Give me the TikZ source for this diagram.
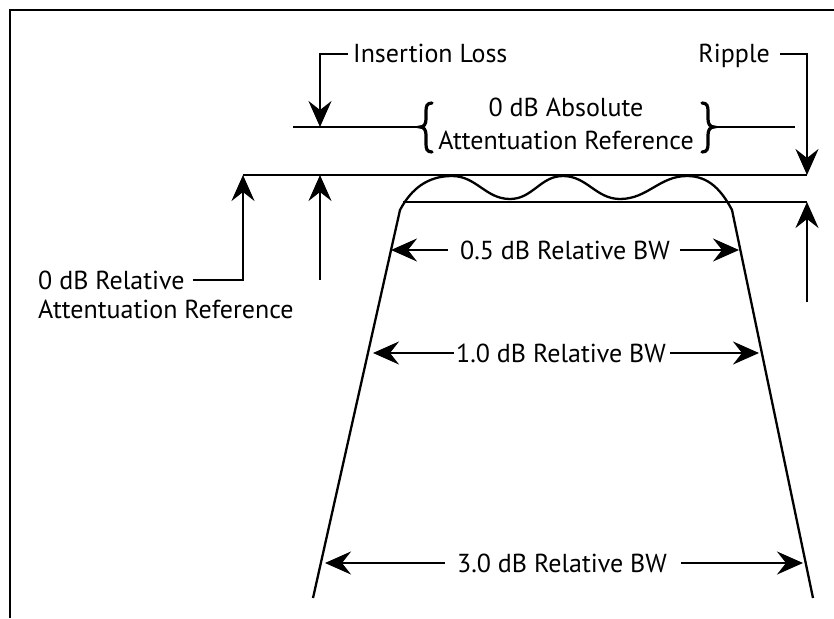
\documentclass[tikz,border=0pt]{standalone}
\usepackage{fontspec}
\setmainfont{PT Sans}
\usetikzlibrary{arrows.meta}
\begin{document}
\begin{tikzpicture}[x=1pt,y=-1pt,
  ln/.style={line width=2.3pt},
  arr/.style={ln,-{Stealth[length=26pt,width=23pt,inset=9pt]}},
  lbl/.style={font=\fontsize{26}{33}\selectfont,inner sep=0pt},
  brc/.style={line width=3.2pt,line cap=round}]
\useasboundingbox (0,0) rectangle (834,618);
% frame
\draw[ln] (10,618) -- (10,10) -- (834,10);
% reference levels
\coordinate (topL) at (243,175);
\coordinate (topR) at (807,175);
\coordinate (lowL) at (403,202);
\coordinate (lowR) at (807,202);
\draw[ln] (topL) -- (topR);
\draw[ln] (lowL) -- (lowR);
% filter response
\draw[ln,line join=round] (313,598) -- (400,210)
  to[out=62,in=180] (452,176) to[out=0,in=180] (510,199)
  to[out=0,in=180] (563,176) to[out=0,in=180] (620,199)
  to[out=0,in=180] (687,176) to[out=0,in=118] (732,210) -- (813,598);
% insertion loss
\node[lbl,anchor=base west] (il) at (353,63) {Insertion Loss};
\coordinate (ilT) at (320,127);
\draw[arr] ([xshift=-5pt]il.west) -| (ilT);
% absolute reference
\node[lbl,align=center] (abs) at (566,124) {0 dB Absolute\\Attentuation Reference};
\coordinate (lbTip) at (420,127);
\coordinate (rbTip) at (714,127);
\draw[brc] (432,103) .. controls (427,103) and (426,106) .. (426,111) -- (426,119)
  .. controls (426,124) and (424,127) .. (lbTip)
  .. controls (424,127) and (426,130) .. (426,135) -- (426,144)
  .. controls (426,149) and (427,152) .. (432,152);
\draw[brc] (702,103) .. controls (707,103) and (708,106) .. (708,111) -- (708,119)
  .. controls (708,124) and (710,127) .. (rbTip)
  .. controls (710,127) and (708,130) .. (708,135) -- (708,144)
  .. controls (708,149) and (707,152) .. (702,152);
\coordinate (absL) at (293,127);
\coordinate (absR) at (795,127);
\draw[ln] (absL) -- (lbTip);
\draw[ln] (rbTip) -- (absR);
% ripple
\node[lbl,anchor=base east] (rp) at (770,63) {Ripple};
\coordinate (rpT) at (807,175);
\draw[arr] ([xshift=10pt,yshift=9pt]rp.base east) -| (rpT);
\coordinate (rpB) at (807,302);
\draw[arr] (rpB) -- (lowR);
% relative reference
\node[lbl,anchor=base west] (rel1) at (38,289) {0 dB Relative};
\node[lbl,anchor=base west] (rel2) at (38,318) {Attentuation Reference};
\draw[arr] ([xshift=8pt]rel1.east) -| (topL);
\coordinate (ia) at (320,280);
\coordinate (iaT) at (320,175);
\draw[arr] (ia) -- (iaT);
% bandwidths
\node[lbl] (bw05) at (565,250) {0.5 dB Relative BW};
\coordinate (s05L) at (391,250);
\coordinate (s05R) at (739,250);
\draw[arr] ([xshift=-12pt]bw05.west) -- (s05L);
\draw[arr] ([xshift=10pt]bw05.east) -- (s05R);
\node[lbl] (bw10) at (561,353) {1.0 dB Relative BW};
\coordinate (s10L) at (373,353);
\coordinate (s10R) at (759,353);
\draw[arr] ([xshift=-2pt]bw10.west) -- (s10L);
\draw[arr] ([xshift=4pt]bw10.east) -- (s10R);
\node[lbl] (bw30) at (562,563) {3.0 dB Relative BW};
\coordinate (s30L) at (325,563);
\coordinate (s30R) at (803,563);
\draw[arr] ([xshift=-12pt]bw30.west) -- (s30L);
\draw[arr] ([xshift=14pt]bw30.east) -- (s30R);
\end{tikzpicture}
\end{document}
